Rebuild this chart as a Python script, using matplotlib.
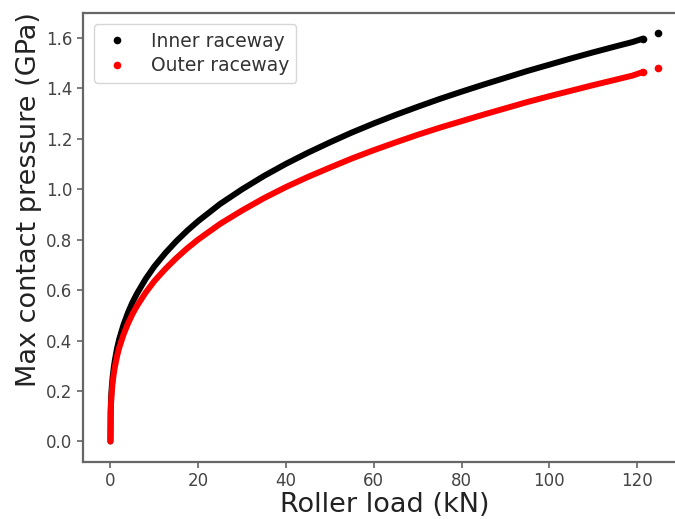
import numpy as np
import matplotlib.pyplot as plt

# roller load (kN) and max contact pressure (GPa)
load = [0, 0.05, 0.1, 0.2, 0.3, 0.5, 0.75, 1, 1.5, 2, 3, 4, 5, 6, 8, 10, 12.5, 15,
        17.5, 20, 25, 30, 35, 40, 45, 50, 55, 60, 65, 70, 75, 80, 85, 90, 95,
        100, 105, 110, 115, 119, 121.3, 124.7]
p_inner = [0, 0.119, 0.149, 0.188, 0.216, 0.256, 0.293, 0.322, 0.369, 0.406, 0.464,
           0.511, 0.551, 0.585, 0.644, 0.694, 0.747, 0.794, 0.836, 0.874, 0.942,
           1.0, 1.053, 1.101, 1.145, 1.186, 1.225, 1.261, 1.295, 1.327, 1.358,
           1.387, 1.415, 1.442, 1.469, 1.494, 1.519, 1.543, 1.566, 1.584, 1.597, 1.618]
p_outer = [0, 0.109, 0.137, 0.172, 0.198, 0.235, 0.268, 0.295, 0.338, 0.372, 0.425,
           0.468, 0.505, 0.536, 0.590, 0.636, 0.684, 0.727, 0.766, 0.801, 0.863,
           0.916, 0.965, 1.009, 1.049, 1.086, 1.122, 1.155, 1.186, 1.216, 1.244,
           1.270, 1.296, 1.321, 1.346, 1.369, 1.391, 1.413, 1.434, 1.451, 1.465, 1.482]

fig = plt.figure(figsize=(6.75, 5.19), dpi=100)
ax = fig.add_axes([0.123, 0.110, 0.894, 0.865])

spine_c = "#666666"
for s in ax.spines.values():
    s.set_color(spine_c)
    s.set_linewidth(1.6)
ax.spines["right"].set_visible(False)
ax.tick_params(colors=spine_c, labelcolor="#444444", labelsize=12, width=1.2, length=4)

for p, c, lab in [(p_inner, "black", "Inner raceway"), (p_outer, "red", "Outer raceway")]:
    ax.plot(load[:-1], p[:-1], "-", color=c, lw=4.3, solid_capstyle="round")
    ax.plot(load[-2:], p[-2:], "o", color=c, ms=5.5, mew=0, label=lab)

ax.set_xlim(-6.25, 131.25)
ax.set_ylim(-0.081, 1.699)
ax.set_xticks([0, 20, 40, 60, 80, 100, 120])
ax.set_yticks(np.arange(0, 1.61, 0.2))

ax.set_xlabel("Roller load (kN)", size=19.5, color="#222222", labelpad=1)
ax.set_ylabel("Max contact pressure (GPa)", size=19.5, color="#222222")
ax.yaxis.set_label_coords(-0.068, 0.585)

leg = ax.legend(loc="upper left", fontsize=13.5, markerscale=1.0, handlelength=1.6,
                handletextpad=1.0, borderaxespad=0.6, labelspacing=0.3,
                numpoints=1)
for t in leg.get_texts():
    t.set_color("#333333")

plt.savefig("out.png", dpi=100)
